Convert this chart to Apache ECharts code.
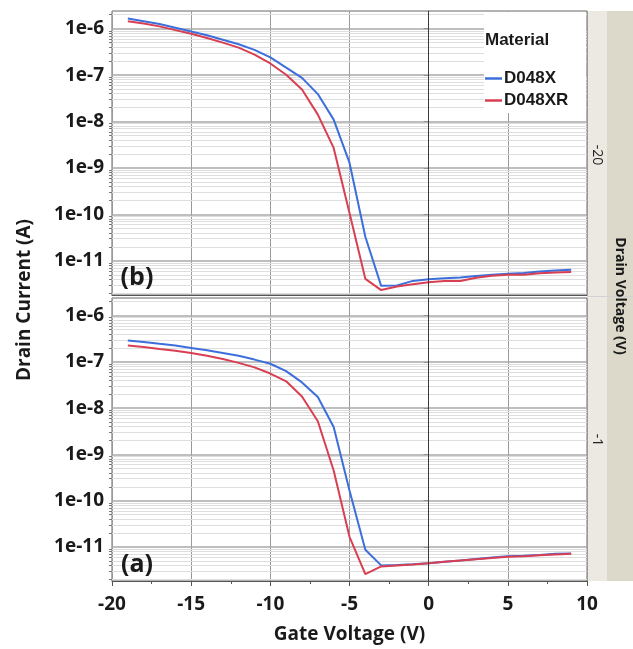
<!DOCTYPE html>
<html>
<head>
<meta charset="utf-8">
<script src="https://cdn.jsdelivr.net/npm/echarts@6.0.0/dist/echarts.min.js"></script>
<style>
  html, body { margin: 0; padding: 0; background: #fff; }
  #chart { width: 633px; height: 649px; }
</style>
</head>
<body>
<div id="chart"></div>
<script>
"use strict";

// gate voltage (V), same for every curve
const gateVoltage = [-19, -18, -17, -16, -15, -14, -13, -12, -11, -10, -9, -8, -7, -6, -5,
    -4, -3, -2, -1, 0, 1, 2, 3, 4, 5, 6, 7, 8, 9];

// drain voltage -20 V, panel (b)
const d048x_vd20 = [1.66e-6, 1.45e-6, 1.26e-6, 1.05e-6, 8.7e-7, 7.2e-7, 5.75e-7, 4.6e-7, 3.5e-7, 2.4e-7,
    1.45e-7, 8.7e-8, 3.9e-8, 1.1e-8, 1.3e-9, 3.3e-11, 2.9e-12, 2.95e-12, 3.7e-12, 4.0e-12,
    4.2e-12, 4.4e-12, 4.7e-12, 5.0e-12, 5.25e-12, 5.5e-12, 5.9e-12, 6.2e-12, 6.45e-12];
const d048xr_vd20 = [1.45e-6, 1.29e-6, 1.12e-6, 9.3e-7, 7.8e-7, 6.3e-7, 5.0e-7, 3.9e-7, 2.75e-7, 1.78e-7,
    1.02e-7, 4.9e-8, 1.41e-8, 2.7e-9, 1.07e-10, 4.1e-12, 2.35e-12, 2.8e-12, 3.15e-12, 3.45e-12,
    3.7e-12, 3.7e-12, 4.35e-12, 4.8e-12, 5.0e-12, 5.0e-12, 5.4e-12, 5.6e-12, 5.75e-12];

// drain voltage -1 V, panel (a)
const d048x_vd1 = [2.9e-7, 2.7e-7, 2.45e-7, 2.25e-7, 2.0e-7, 1.78e-7, 1.55e-7, 1.35e-7, 1.12e-7, 9.1e-8,
    6.3e-8, 3.6e-8, 1.74e-8, 3.9e-9, 1.66e-10, 8.7e-12, 4.0e-12, 4.1e-12, 4.25e-12, 4.45e-12,
    4.8e-12, 5.1e-12, 5.5e-12, 5.9e-12, 6.3e-12, 6.45e-12, 6.75e-12, 7.1e-12, 7.25e-12];
const d048xr_vd1 = [2.25e-7, 2.1e-7, 1.9e-7, 1.74e-7, 1.55e-7, 1.35e-7, 1.15e-7, 9.5e-8, 7.6e-8, 5.6e-8,
    3.8e-8, 1.78e-8, 5.2e-9, 4.5e-10, 1.66e-11, 2.6e-12, 3.8e-12, 4.0e-12, 4.2e-12, 4.45e-12,
    4.8e-12, 5.1e-12, 5.4e-12, 5.75e-12, 6.15e-12, 6.3e-12, 6.6e-12, 6.9e-12, 7.1e-12];

const decadeTicks = [1e-11, 1e-10, 1e-9, 1e-8, 1e-7, 1e-6];
const materials = ["D048X", "D048XR"];
const drainLabels = ["-20", "-1"];

const Y_MIN = 1.84e-12, Y_MAX = 2.4e-6;
const BLUE = "#3c6fdc", RED = "#d83f52";
const FONT = "'Open Sans', 'DejaVu Sans', sans-serif";
const LEGEND_FONT = "'Liberation Sans', Arial, sans-serif";
const PLOT_W = 475;

// minor grid values m * 10^n inside the axis range
const minorValues = [];
for (let n = -12; n <= -6; n++) {
    for (let m = 2; m <= 9; m++) {
        const v = Number(m + "e" + n);
        if (v > Y_MIN && v < Y_MAX) minorValues.push(v);
    }
}

const chart = echarts.init(document.getElementById("chart"), null, { renderer: "canvas" });

const grids = [
    { left: 112, top: 11, width: PLOT_W, height: 284 },
    { left: 112, top: 298, width: PLOT_W, height: 283 }
];

const Y_PER_GRID = 4;

function pairs(ys) {
    return gateVoltage.map((x, i) => [x, ys[i]]);
}

// dark vertical line at 0 V
function zeroLine(idx) {
    return {
        type: "line", xAxisIndex: idx, yAxisIndex: idx * Y_PER_GRID, data: [], z: 1, silent: true,
        markLine: {
            symbol: "none", silent: true, animation: false,
            label: { show: false }, emphasis: { disabled: true },
            lineStyle: { type: "solid", color: "#3a3a3a", width: 1 },
            data: [{ xAxis: 0 }]
        }
    };
}

function curve(name, idx, ys, color) {
    return {
        name: name, type: "line", xAxisIndex: idx, yAxisIndex: idx * Y_PER_GRID,
        data: pairs(ys), showSymbol: false, z: 3,
        lineStyle: { color: color, width: 2 }, itemStyle: { color: color },
        emphasis: { disabled: true }
    };
}

function xAxisFor(idx) {
    const bottom = idx === 1;
    return {
        type: "value", gridIndex: idx, min: -20, max: 10, interval: 5,
        axisLine: { show: true, lineStyle: { color: "#555" } },
        axisTick: { show: bottom, length: 5, lineStyle: { color: "#555" } },
        minorTick: { show: bottom, splitNumber: 2, length: 3, lineStyle: { color: "#555" } },
        axisLabel: { show: bottom, margin: 14, fontFamily: FONT, fontWeight: "bold", fontSize: 19, color: "#1a1a1a" },
        splitLine: { show: true, lineStyle: { color: "#9a9a9a", width: 1 } },
        name: bottom ? "Gate Voltage (V)" : "",
        nameLocation: "middle", nameGap: 44,
        nameTextStyle: { fontFamily: FONT, fontWeight: "bold", fontSize: 19, color: "#1a1a1a" }
    };
}

function logAxis(idx, extra) {
    return Object.assign({
        type: "log", logBase: 10, gridIndex: idx, min: Y_MIN, max: Y_MAX, position: "left",
        axisLine: { show: false }, axisLabel: { show: false }, splitLine: { show: false }
    }, extra);
}

function yAxesFor(idx) {
    return [
        logAxis(idx, {
            axisLine: { show: true, lineStyle: { color: "#555" } },
            axisTick: { show: true, length: 5, customValues: decadeTicks, lineStyle: { color: "#555" } },
            axisLabel: {
                customValues: decadeTicks, margin: 8,
                fontFamily: FONT, fontWeight: "bold", fontSize: 19, color: "#1a1a1a",
                formatter: v => "1e" + Math.round(Math.log10(v))
            }
        }),
        // small outside ticks at 2..9 of each decade
        logAxis(idx, {
            axisTick: { show: true, length: 3, customValues: minorValues, lineStyle: { color: "#777" } }
        }),
        // light horizontal grid at 2..9 of each decade
        logAxis(idx, {
            axisTick: { show: true, inside: true, length: PLOT_W, customValues: minorValues,
                lineStyle: { color: "#dedede", width: 1 } }
        }),
        // darker horizontal grid at every decade
        logAxis(idx, {
            axisTick: { show: true, inside: true, length: PLOT_W, customValues: decadeTicks,
                lineStyle: { color: "#a9a9a9", width: 1.6 } }
        })
    ];
}

const boldText = (x, y, text, size, extra) => Object.assign({
    type: "text", x: x, y: y, silent: true,
    style: { text: text, fontFamily: FONT, fontWeight: "bold", fontSize: size, fill: "#1a1a1a",
        align: "center", verticalAlign: "middle" }
}, extra || {});

const option = {
    animation: false,
    backgroundColor: "#ffffff",
    grid: grids.map(g => Object.assign({ show: true, borderColor: "#666", borderWidth: 1, backgroundColor: "#fff" }, g)),
    xAxis: [xAxisFor(0), xAxisFor(1)],
    yAxis: yAxesFor(0).concat(yAxesFor(1)),
    legend: {
        data: materials, orient: "vertical", left: 485, top: 70, itemGap: 5, padding: 0,
        icon: "rect", itemWidth: 17, itemHeight: 2.5,
        textStyle: { fontFamily: LEGEND_FONT, fontWeight: "bold", fontSize: 17,
            color: "#1a1a1a", padding: [0, 0, 0, -3] },
        selectedMode: false, z: 10
    },
    graphic: [
        // white legend box and its title
        { type: "rect", shape: { x: 484, y: 12, width: 102, height: 101 }, style: { fill: "#fff" }, z: 5, silent: true },
        { type: "text", x: 485, y: 40, z: 6, silent: true,
          style: { text: "Material", fontFamily: LEGEND_FONT, fontWeight: "bold",
              fontSize: 17, fill: "#1a1a1a", verticalAlign: "middle" } },
        // drain voltage strip on the right
        { type: "rect", shape: { x: 587, y: 11, width: 20, height: 570 }, style: { fill: "#ebe9e1" }, silent: true },
        { type: "rect", shape: { x: 607, y: 11, width: 26, height: 570 }, style: { fill: "#dcd9cb" }, silent: true },
        { type: "line", shape: { x1: 587, y1: 296.5, x2: 633, y2: 296.5 }, style: { stroke: "#d2d2d2", lineWidth: 1 }, silent: true },
        { type: "text", x: 597, y: 155, rotation: -Math.PI / 2, silent: true,
          style: { text: drainLabels[0], fontFamily: FONT, fontSize: 14, fill: "#222", align: "center", verticalAlign: "middle" } },
        { type: "text", x: 597, y: 440, rotation: -Math.PI / 2, silent: true,
          style: { text: drainLabels[1], fontFamily: FONT, fontSize: 14, fill: "#222", align: "center", verticalAlign: "middle" } },
        boldText(620, 296, "Drain Voltage (V)", 14, { rotation: -Math.PI / 2 }),
        // y title and panel tags
        boldText(25, 300, "Drain Current (A)", 19, { rotation: Math.PI / 2 }),
        boldText(137, 278, "(b)", 25, { z: 10 }),
        boldText(137, 565, "(a)", 25, { z: 10 })
    ],
    series: [
        zeroLine(0), zeroLine(1),
        curve(materials[0], 0, d048x_vd20, BLUE),
        curve(materials[1], 0, d048xr_vd20, RED),
        curve(materials[0], 1, d048x_vd1, BLUE),
        curve(materials[1], 1, d048xr_vd1, RED)
    ]
};

chart.setOption(option);
window.addEventListener("resize", () => chart.resize());
</script>
</body>
</html>
